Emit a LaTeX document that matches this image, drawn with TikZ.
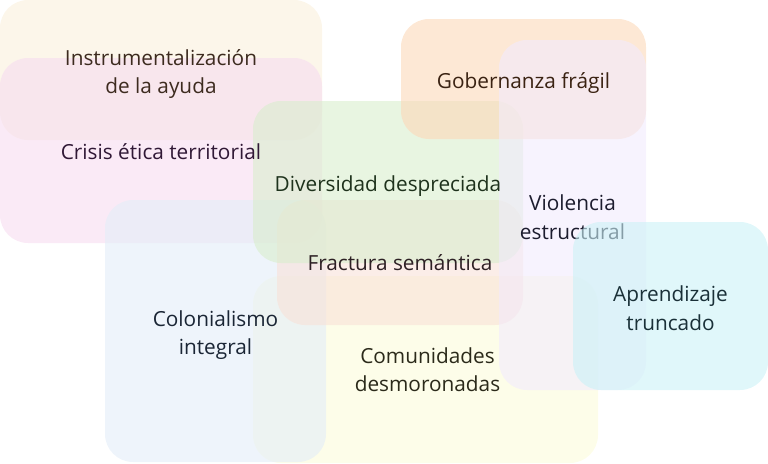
\documentclass[tikz,border=0pt]{standalone}
\usepackage{fontspec}
\setmainfont{Open Sans}
\definecolor{fBeige}{RGB}{250,240,220}
\definecolor{fPink}{RGB}{247,220,240}
\definecolor{fGreen}{RGB}{217,238,205}
\definecolor{fOrange}{RGB}{252,217,185}
\definecolor{fLavender}{RGB}{242,235,253}
\definecolor{fRose}{RGB}{248,225,216}
\definecolor{fBlue}{RGB}{227,237,248}
\definecolor{fYellow}{RGB}{252,252,218}
\definecolor{fCyan}{RGB}{203,242,247}
\definecolor{tBeige}{RGB}{61,43,31}
\definecolor{tPink}{RGB}{48,24,54}
\definecolor{tGreen}{RGB}{30,50,28}
\definecolor{tOrange}{RGB}{58,34,18}
\definecolor{tLavender}{RGB}{28,28,46}
\definecolor{tRose}{RGB}{45,32,36}
\definecolor{tBlue}{RGB}{26,37,53}
\definecolor{tYellow}{RGB}{43,42,26}
\definecolor{tCyan}{RGB}{26,48,56}
\begin{document}
\begin{tikzpicture}[x=1pt,y=-1pt,
  zone/.style={fill=f#1,fill opacity=0.6,rounded corners=28pt,inner sep=0pt},
  lbl/.style={text=t#1,align=center,font=\fontsize{20.8}{28.5}\selectfont}]
\useasboundingbox (0,0) rectangle (768,463);

% boxes
\node[zone=Beige,minimum width=322pt,minimum height=140pt] (instr) at (161,70) {};
\node[zone=Pink,minimum width=322pt,minimum height=185pt] (crisis) at (161,150.5) {};
\node[zone=Yellow,minimum width=345pt,minimum height=187pt] (comun) at (425.5,369.5) {};
\node[zone=Blue,minimum width=221pt,minimum height=262pt] (colon) at (215.5,331) {};
\node[zone=Rose,minimum width=246pt,minimum height=125pt] (fract) at (400,262.5) {};
\node[zone=Green,minimum width=270pt,minimum height=162pt] (diver) at (388,182) {};
\node[zone=Orange,minimum width=245pt,minimum height=120pt] (gober) at (523.5,79) {};
\node[zone=Lavender,minimum width=147pt,minimum height=350pt] (viol) at (572.5,215) {};

% labels
\node[lbl=Beige] (instr') at ([yshift=-4pt]instr) {Instrumentalización\\de la ayuda};
\node[lbl=Pink] (crisis') at ([yshift=-1pt]crisis) {Crisis ética territorial};
\node[lbl=Green] (diver') at ([yshift=-4pt]diver) {Diversidad despreciada};
\node[lbl=Orange] (gober') at ([yshift=-4pt]gober) {Gobernanza frágil};
\node[lbl=Lavender] (viol') at ([yshift=-2pt]viol) {Violencia\\estructural};
\node[lbl=Rose] (fract') at (fract) {Fractura semántica};
\node[lbl=Blue] (colon') at ([yshift=-4pt]colon) {Colonialismo\\integral};
\node[lbl=Yellow] (comun') at ([xshift=2pt]comun) {Comunidades\\desmoronadas};

% drawn last, over the end of estructural
\node[zone=Cyan,minimum width=195pt,minimum height=168pt] (apren) at (670.5,306) {};
\node[lbl=Cyan] (apren') at ([yshift=-2pt]apren) {Aprendizaje\\truncado};

\end{tikzpicture}
\end{document}
